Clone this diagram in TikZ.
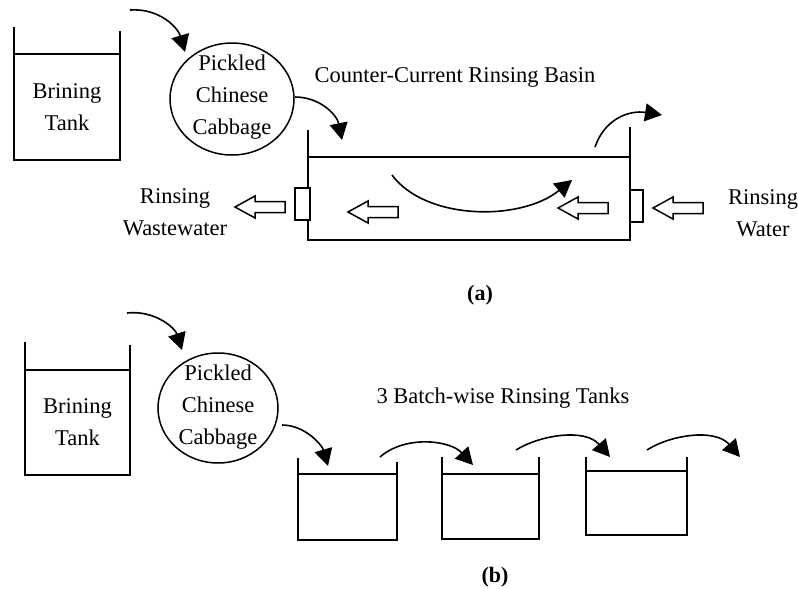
\documentclass[tikz,border=0pt]{standalone}
\usepackage{fontspec}
\setmainfont{Liberation Serif}
\usetikzlibrary{arrows.meta,shapes.geometric}
\begin{document}
\begin{tikzpicture}[x=1pt,y=-1pt,
  every node/.style={font=\fontsize{22.5}{32}\selectfont, inner sep=0pt, outer sep=0pt},
  wline/.style={line width=1.5pt},
  flow/.style={line width=1.6pt, -{Triangle[length=17pt,width=18pt]}},
  tankbody/.style={draw, line width=1.5pt, align=center},
  cabbage/.style={draw, ellipse, line width=1.5pt},
  port/.style={draw, line width=1.5pt, fill=white, minimum height=32pt},
  lbl/.style={align=center},
  sublbl/.style={font=\fontsize{22}{26}\bfseries\selectfont},
  blockarrow/.pic={\draw[line width=1.5pt, fill=white] (0,0) -- (20,-11) -- (20,-5.5) -- (50,-5.5) -- (50,5.5) -- (20,5.5) -- (20,11) -- cycle;}
]
\useasboundingbox (0,0) rectangle (798,589);

% ---------------- (a) ----------------
\node[tankbody, minimum width=106pt, minimum height=106pt] (bta) at (67,107) {Brining\\Tank};
\draw[wline] (bta.north west) -- ++(0,-27);
\draw[wline] (bta.north east) -- ++(0,-23);

\node[cabbage, minimum width=124pt, minimum height=112pt] (pca) at (232,99) {};
\node[lbl] (pcat) at (232,97.5) {Pickled\\Chinese\\Cabbage};

\node (ttla) at (455,77) {Counter-Current Rinsing Basin};

\node[tankbody, minimum width=322pt, minimum height=83pt] (basin) at (469,198.5) {};
\draw[wline] (basin.north west) -- ++(0,-27);
\draw[wline] (basin.north east) -- ++(0,-30);

\node[port, minimum width=15pt] (pl) at (302.5,204) {};
\node[port, minimum width=13pt] (pr) at (636.5,206) {};

\pic at (235,207) {blockarrow};
\pic at (348,212) {blockarrow};
\pic at (558,208) {blockarrow};
\pic at (653,208) {blockarrow};

\node[lbl] (ww) at (175,212.5) {Rinsing\\Wastewater};
\node[lbl] (rw) at (763,213) {Rinsing\\Water};
\node[sublbl] (la) at (480,295) {(a)};

\coordinate (a1s) at (130,10);
\coordinate (a1e) at (185,52);
\coordinate (a2s) at (295,97);
\coordinate (a2e) at (342,140);
\coordinate (a3s) at (392,175);
\coordinate (a3e) at (572,180);
\coordinate (a4s) at (595,147);
\coordinate (a4e) at (662,115);
\draw[flow] (a1s) .. controls (160,8) and (178,28) .. (a1e);
\draw[flow] (a2s) .. controls (320,97) and (337,115) .. (a2e);
\draw[flow] (a3s) .. controls (425,220) and (520,222) .. (a3e);
\draw[flow] (a4s) .. controls (605,118) and (630,110) .. (a4e);

% ---------------- (b) ----------------
\node[tankbody, minimum width=105pt, minimum height=105pt] (btb) at (77.5,422.5) {Brining\\Tank};
\draw[wline] (btb.north west) -- ++(0,-28);
\draw[wline] (btb.north east) -- ++(0,-25);

\node[cabbage, minimum width=120pt, minimum height=110pt] (pcb) at (218,408) {};
\node[lbl] (pcbt) at (218,407.5) {Pickled\\Chinese\\Cabbage};

\node (ttlb) at (503,398) {3 Batch-wise Rinsing Tanks};

\node[tankbody, minimum width=99pt, minimum height=66pt] (t1) at (347.5,507) {};
\draw[wline] (t1.north west) -- ++(0,-16);
\draw[wline] (t1.north east) -- ++(0,-12);
\node[tankbody, minimum width=97pt, minimum height=65pt] (t2) at (490.5,506.5) {};
\draw[wline] (t2.north west) -- ++(0,-17);
\draw[wline] (t2.north east) -- ++(0,-17);
\node[tankbody, minimum width=101pt, minimum height=64pt] (t3) at (636.5,503) {};
\draw[wline] (t3.north west) -- ++(0,-14);
\draw[wline] (t3.north east) -- ++(0,-14);

\node[sublbl] (lb) at (495,577) {(b)};

\coordinate (b1s) at (127,313);
\coordinate (b1e) at (182,350);
\coordinate (b2s) at (282,425);
\coordinate (b2e) at (328,466);
\coordinate (b3s) at (380,457);
\coordinate (b3e) at (473,465);
\coordinate (b4s) at (516,450);
\coordinate (b4e) at (610,457);
\coordinate (b5s) at (647,450);
\coordinate (b5e) at (740,457);
\draw[flow] (b1s) .. controls (155,310) and (175,328) .. (b1e);
\draw[flow] (b2s) .. controls (305,425) and (322,445) .. (b2e);
\draw[flow] (b3s) .. controls (405,435) and (450,440) .. (b3e);
\draw[flow] (b4s) .. controls (540,435) and (585,428) .. (b4e);
\draw[flow] (b5s) .. controls (670,435) and (715,428) .. (b5e);
\end{tikzpicture}
\end{document}
